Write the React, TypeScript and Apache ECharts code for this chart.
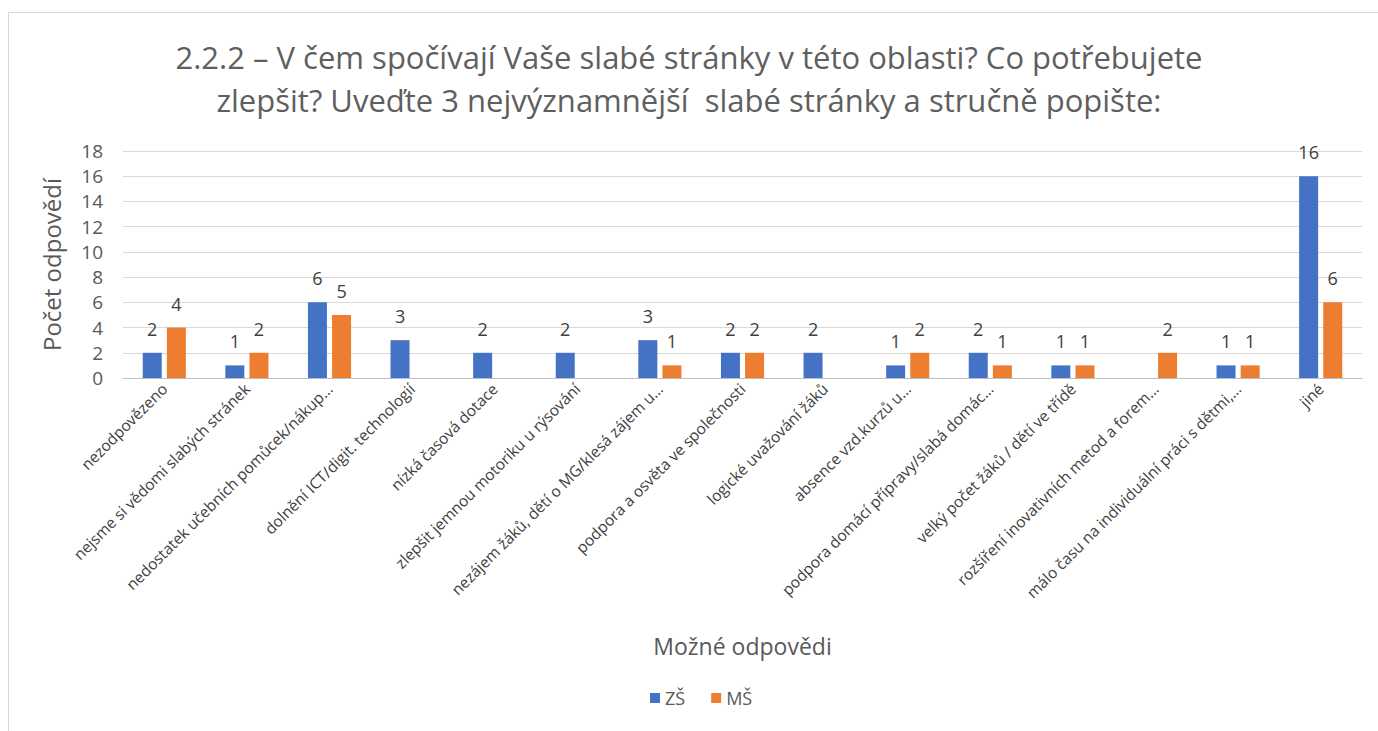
import React, { useEffect, useRef } from "react";
import * as echarts from "echarts";

const categories = [
  "nezodpovězeno",
  "nejsme si vědomi slabých stránek",
  "nedostatek učebních pomůcek/nákup…",
  "dolnění ICT/digit. technologií",
  "nízká časová dotace",
  "zlepšit jemnou motoriku u rýsování",
  "nezájem žáků, dětí o MG/klesá zájem u…",
  "podpora a osvěta ve společnosti",
  "logické uvažování žáků",
  "absence vzd.kurzů u…",
  "podpora domácí přípravy/slabá domác…",
  "velký počet žáků / dětí ve třídě",
  "rozšíření inovativních metod a forem…",
  "málo času na individuální práci s dětmi,…",
  "jiné",
];

const zsValues = [2, 1, 6, 3, 2, 2, 3, 2, 2, 1, 2, 1, null, 1, 16];
const msValues = [4, 2, 5, null, null, null, 1, 2, null, 2, 1, 1, 2, 1, 6];

const yTicks = { min: 0, max: 18, interval: 2 };

const FONT = "'Open Sans', Lato, sans-serif";

export default function App() {
  const ref = useRef<HTMLDivElement>(null);
  useEffect(() => {
    document.body.style.margin = "0";
    const chart = echarts.init(ref.current!, null, { renderer: "svg" });
    const label = {
      show: true,
      position: "top",
      distance: 15,
      color: "#404040",
      fontSize: 18,
      fontFamily: FONT,
    };
    chart.setOption({
      animation: false,
      textStyle: { fontFamily: FONT },
      title: {
        text: "2.2.2 – V čem spočívají Vaše slabé stránky v této oblasti? Co potřebujete\nzlepšit? Uveďte 3 nejvýznamnější  slabé stránky a stručně popište:",
        left: "center",
        top: 30,
        textStyle: {
          fontSize: 31,
          fontWeight: "normal",
          color: "#5f5f5f",
          lineHeight: 43,
          fontFamily: FONT,
        },
      },
      graphic: [
        {
          type: "rect",
          shape: { x: 8.5, y: 12.5, width: 1400, height: 800 },
          style: { fill: "none", stroke: "#d9d9d9", lineWidth: 1 },
          silent: true,
        },
      ],
      legend: {
        bottom: 19,
        left: 645,
        itemWidth: 10,
        itemHeight: 10,
        itemGap: 26,
        icon: "rect",
        textStyle: { fontSize: 18, color: "#595959", fontFamily: FONT },
        data: ["ZŠ", "MŠ"],
      },
      grid: { left: 123, right: 16, top: 151, bottom: 353 },
      xAxis: {
        type: "category",
        data: categories,
        name: "Možné odpovědi",
        nameLocation: "middle",
        nameGap: 256,
        nameTextStyle: { fontSize: 23, color: "#595959", fontFamily: FONT },
        axisLine: { lineStyle: { color: "#bfbfbf" } },
        axisTick: { show: false },
        axisLabel: {
          rotate: 45,
          interval: 0,
          fontSize: 15.5,
          color: "#404040",
          margin: 8,
          fontFamily: FONT,
        },
      },
      yAxis: {
        type: "value",
        min: yTicks.min,
        max: yTicks.max,
        interval: yTicks.interval,
        name: "Počet odpovědí",
        nameLocation: "middle",
        nameGap: 60,
        nameTextStyle: { fontSize: 24, color: "#595959", fontFamily: FONT },
        axisLabel: { fontSize: 19, color: "#595959", margin: 20, fontFamily: FONT },
        splitLine: { lineStyle: { color: "#d9d9d9" } },
        axisLine: { show: false },
        axisTick: { show: false },
      },
      series: [
        {
          name: "ZŠ",
          type: "bar",
          data: zsValues,
          barWidth: 19,
          barGap: "27%",
          itemStyle: { color: "#4472C4" },
          label,
        },
        {
          name: "MŠ",
          type: "bar",
          data: msValues,
          barWidth: 19,
          itemStyle: { color: "#ED7D31" },
          label,
        },
      ],
    });
    return () => chart.dispose();
  }, []);
  return <div ref={ref} style={{ width: 1378, height: 731 }} />;
}
